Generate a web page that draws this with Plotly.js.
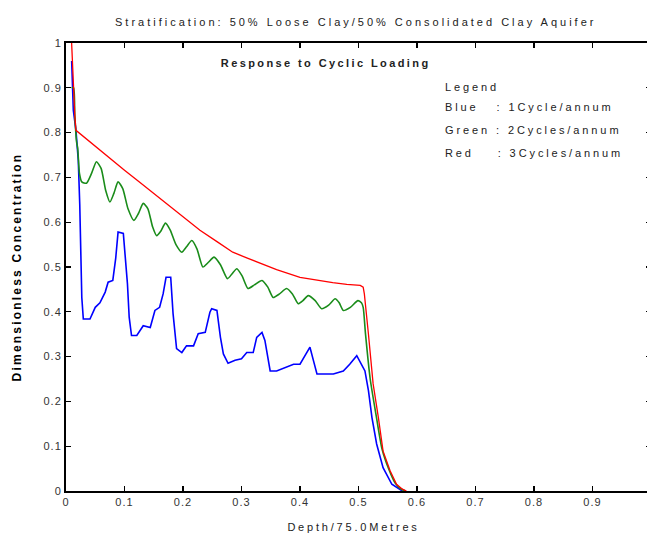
<!DOCTYPE html>
<html>
<head>
<meta charset="utf-8">
<script src="https://cdn.plot.ly/plotly-3.0.1.min.js"></script>
<style>
html,body{margin:0;padding:0;overflow:hidden;background:#fff;}
#chart{width:660px;height:535px;}
</style>
</head>
<body>
<div id="chart"></div>
<script>
// ---- data ----
const blueX = [0.0097,0.0125,0.017,0.021,0.0235,0.025,0.027,0.0296,0.041,0.05,0.058,0.067,0.072,0.080,0.085,0.089,0.098,0.105,0.108,0.112,0.121,0.132,0.144,0.152,0.160,0.166,0.171,0.179,0.183,0.189,0.198,0.206,0.218,0.226,0.238,0.246,0.249,0.258,0.264,0.269,0.277,0.289,0.300,0.309,0.320,0.326,0.335,0.340,0.346,0.349,0.360,0.377,0.389,0.400,0.411,0.417,0.423,0.429,0.443,0.457,0.474,0.485,0.497,0.505,0.511,0.517,0.523,0.531,0.542,0.557,0.575];
const blueY = [0.96,0.85,0.805,0.738,0.64,0.54,0.432,0.384,0.384,0.41,0.42,0.444,0.466,0.47,0.52,0.578,0.575,0.463,0.388,0.347,0.347,0.369,0.365,0.403,0.41,0.44,0.477,0.477,0.396,0.318,0.309,0.324,0.324,0.351,0.354,0.399,0.407,0.403,0.343,0.306,0.285,0.292,0.295,0.309,0.309,0.343,0.354,0.336,0.291,0.268,0.268,0.276,0.283,0.283,0.309,0.321,0.291,0.261,0.261,0.261,0.268,0.283,0.302,0.283,0.268,0.224,0.164,0.105,0.052,0.015,0.0];

const greenX = [0.0096,0.013,0.015,0.018,0.020,0.023,0.027,0.035,0.044,0.052,0.06,0.068,0.075,0.082,0.089,0.097,0.106,0.116,0.124,0.132,0.14,0.148,0.155,0.162,0.170,0.178,0.188,0.198,0.206,0.215,0.224,0.234,0.243,0.253,0.264,0.276,0.284,0.292,0.301,0.311,0.322,0.335,0.345,0.354,0.365,0.377,0.387,0.397,0.405,0.414,0.426,0.437,0.449,0.460,0.467,0.474,0.486,0.499,0.505,0.508,0.512,0.520,0.530,0.540,0.552,0.563,0.572,0.580];
const greenY = [0.90,0.90,0.84,0.78,0.765,0.709,0.69,0.687,0.71,0.735,0.72,0.67,0.645,0.665,0.69,0.675,0.63,0.604,0.62,0.642,0.63,0.59,0.570,0.58,0.598,0.583,0.55,0.533,0.545,0.559,0.54,0.500,0.51,0.522,0.505,0.474,0.485,0.496,0.48,0.452,0.46,0.470,0.455,0.432,0.44,0.452,0.44,0.418,0.425,0.436,0.425,0.407,0.415,0.429,0.42,0.403,0.41,0.425,0.42,0.41,0.35,0.25,0.17,0.095,0.048,0.017,0.005,0.0];

const redX = [0.0096,0.011,0.013,0.015,0.017,0.04,0.07,0.1,0.126,0.15,0.183,0.205,0.229,0.26,0.285,0.31,0.332,0.36,0.4,0.43,0.456,0.48,0.503,0.508,0.510,0.517,0.525,0.534,0.542,0.554,0.565,0.575,0.582];
const redY = [1.0,0.95,0.90,0.84,0.805,0.78,0.748,0.716,0.689,0.664,0.630,0.607,0.582,0.555,0.533,0.52,0.508,0.494,0.477,0.47,0.465,0.461,0.459,0.455,0.44,0.35,0.239,0.164,0.089,0.045,0.015,0.004,0.0];

const tickVals = [0,0.1,0.2,0.3,0.4,0.5,0.6,0.7,0.8,0.9,1];
const tickText = ['0','0.1','0.2','0.3','0.4','0.5','0.6','0.7','0.8','0.9','1'];

const chartTitle = 'Stratification: 50% Loose Clay/50% Consolidated Clay Aquifer';
const subTitle = 'Response to Cyclic Loading';
const legendLines = ['Legend','Blue   : 1Cycle/annum','Green : 2Cycles/annum','Red    : 3Cycles/annum'];
const xTitle = 'Depth/75.0Metres';
const yTitle = 'Dimensionless Concentration';

const FONT = 'Liberation Sans, Arial, sans-serif';

const traces = [
  {x: blueX, y: blueY, type:'scatter', mode:'lines', name:'Blue', line:{color:'#0000ff', width:1.6}},
  {x: greenX, y: greenY, type:'scatter', mode:'lines', name:'Green', line:{color:'#1a8c1a', width:1.6, shape:'spline', smoothing:0.6}},
  {x: redX, y: redY, type:'scatter', mode:'lines', name:'Red', line:{color:'#ff0000', width:1.3}}
];

const axisCommon = {
  range:[0,1], tickvals:tickVals, ticktext:tickText,
  showline:true, linecolor:'#000', linewidth:2, mirror:'ticks',
  ticks:'inside', ticklen:5, tickwidth:1.2, tickcolor:'#000',
  showgrid:false, zeroline:false,
  tickfont:{family:FONT, size:11, color:'#333'}
};

const legendY = [0.902, 0.857, 0.806, 0.7545];
const annotations = [
  {text: subTitle, xref:'paper', yref:'paper', x:0.443, y:0.955, showarrow:false,
   xanchor:'center', yanchor:'middle', font:{family:FONT, size:11, color:'#222', weight:'bold'}}
].concat(legendLines.map((t,i)=>({
  text: t, xref:'paper', yref:'paper', x:0.6445, y:legendY[i], showarrow:false,
  xanchor:'left', yanchor:'middle', font:{family:FONT, size:11, color:'#222'}
})));

const layout = {
  width:660, height:535,
  margin:{l:66, r:9, t:43, b:44},
  paper_bgcolor:'#fff', plot_bgcolor:'#fff',
  showlegend:false,
  title:{text: chartTitle, x:0.539, xref:'container', xanchor:'center', y:0.959, yref:'container', yanchor:'middle',
    font:{family:FONT, size:11, color:'#222'}},
  xaxis: Object.assign({}, axisCommon, {title:{text:xTitle, standoff:16, font:{family:FONT, size:11, color:'#222'}}}),
  yaxis: Object.assign({}, axisCommon, {title:{text:yTitle, standoff:22, font:{family:FONT, size:12, color:'#000', weight:'bold'}}}),
  annotations: annotations
};

Plotly.newPlot('chart', traces, layout, {displayModeBar:false, staticPlot:true}).then(function(){
  const setLS = (sel, v) => document.querySelectorAll(sel).forEach(e => { e.style.letterSpacing = v; });
  setLS('.gtitle', '3px');
  setLS('.ytitle', '2.2px');
  setLS('.xtick text, .ytick text', '1px');
  document.querySelectorAll('.xtitle').forEach(el => {
    el.style.letterSpacing = '2.8px';
    el.setAttribute('x', (+el.getAttribute('x')) - 5);
  });
  document.querySelectorAll('.annotation-text').forEach((el, i) => {
    if (i === 0) { el.style.letterSpacing = '2.4px'; return; }
    const b = el.getBBox();
    el.setAttribute('text-anchor', 'start');
    el.style.textAnchor = 'start';
    el.setAttribute('x', b.x);
    el.style.letterSpacing = '2.9px';
  });
});
</script>
</body>
</html>
